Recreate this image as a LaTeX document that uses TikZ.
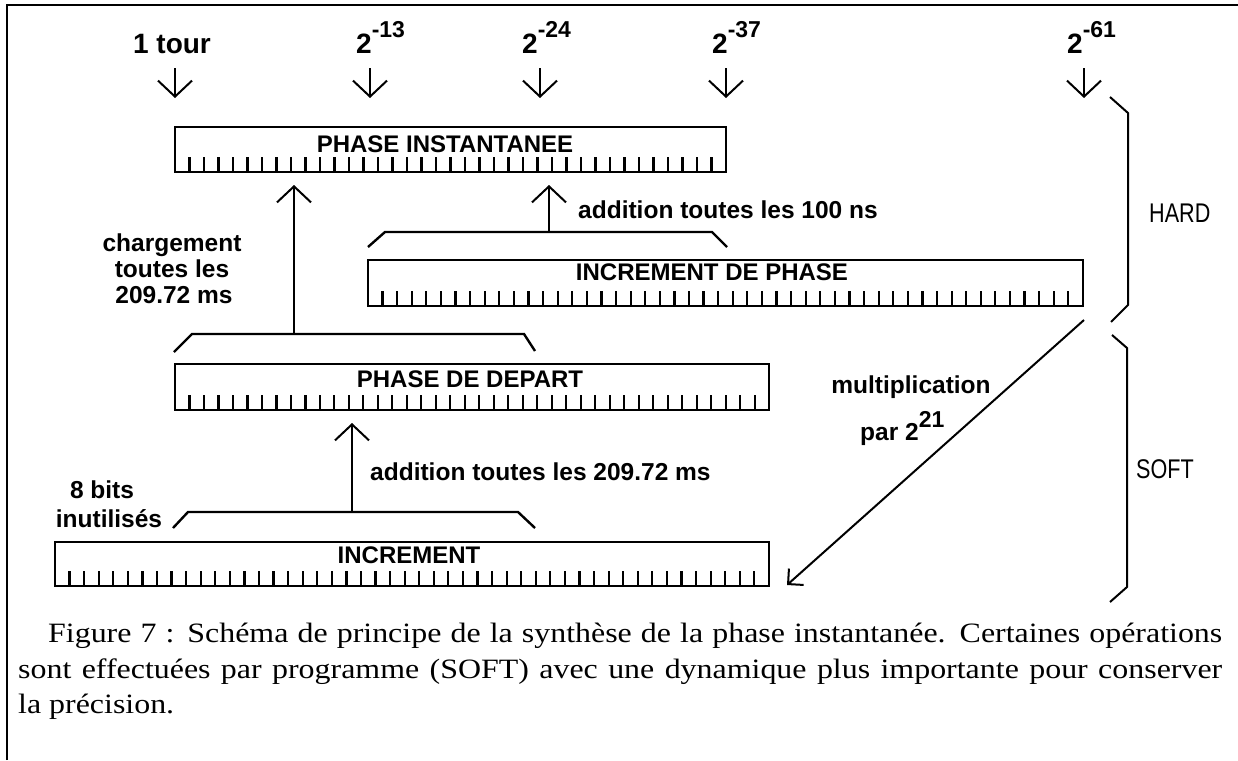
\documentclass[tikz,border=0pt]{standalone}
\usepackage{fontspec}
\usepackage{graphicx}
\setmainfont{Liberation Serif}[FakeStretch=1.14]
\newfontfamily\boldsans{Liberation Sans}
\newfontfamily\sidesans{Liberation Sans}
\usetikzlibrary{arrows.meta,calc}

% raised exponent for the bit weights
\newcommand{\supnum}[2]{\raisebox{#1}{\fontsize{23}{23}\selectfont #2}}
% bit separators along the lower edge of a register
\newcommand{\drawticks}[3]{%
  \foreach \k in {1,...,#2}{%
    \draw[regtick] ([xshift=\k*#3pt]#1.south west) -- ++(0,-15);}}

\begin{document}
\begin{tikzpicture}[x=1pt,y=-1pt,
  reg/.style={draw, line width=2.6pt, inner sep=0pt, outer sep=0pt, anchor=north west},
  regtick/.style={line width=2.2pt},
  brk/.style={line width=2.4pt, line join=miter},
  sidebrk/.style={line width=2pt, line join=miter},
  arr/.style={line width=2pt, -{Straight Barb[length=16pt,width=34pt,line width=2pt]}},
  mularr/.style={line width=2pt, -{Straight Barb[length=11pt,width=22pt,line width=2pt]}},
  txt/.style={font=\boldsans\bfseries\fontsize{24.5}{28}\selectfont, inner sep=0pt, anchor=base},
  boxlbl/.style={font=\boldsans\bfseries\fontsize{24}{28}\selectfont, inner sep=0pt, anchor=base},
  toplbl/.style={font=\boldsans\bfseries\fontsize{28}{32}\selectfont, inner sep=0pt, anchor=base},
  side/.style={font=\sidesans\fontsize{27}{30}\selectfont, inner sep=0pt, anchor=base west},
  captxt/.style={font=\fontsize{28}{34}\selectfont, inner sep=0pt, anchor=base west}]
\useasboundingbox (0,0) rectangle (1238,760);

% frame
\draw[line width=2pt] (7,760) -- (7,5) -- (1238,5);

% registers
\node[reg, minimum width=551pt, minimum height=45pt] (pinst) at (175,127) {};
\node[reg, minimum width=715pt, minimum height=46pt] (incph) at (368,260) {};
\node[reg, minimum width=594pt, minimum height=46pt] (pdep) at (175,364) {};
\node[reg, minimum width=714pt, minimum height=44pt] (incr) at (55,542) {};
\drawticks{pinst}{37}{14.5}
\drawticks{incph}{48}{14.59}
\drawticks{pdep}{40}{14.49}
\drawticks{incr}{48}{14.57}
\node[boxlbl] (pinstT) at (445,152) {PHASE INSTANTANEE};
\node[boxlbl] (incphT) at (712,280) {INCREMENT DE PHASE};
\node[boxlbl] (pdepT) at (470,387) {PHASE DE DEPART};
\node[boxlbl] (incrT) at (409,563) {INCREMENT};

% bit weights
\node[toplbl] (w0) at (172,53) {1 tour};
\node[toplbl, anchor=base west] (w13) at (356,53) {2\supnum{16pt}{-13}};
\node[toplbl, anchor=base west] (w24) at (522,53) {2\supnum{16pt}{-24}};
\node[toplbl, anchor=base west] (w37) at (712,53) {2\supnum{16pt}{-37}};
\node[toplbl, anchor=base west] (w61) at (1067,53) {2\supnum{16pt}{-61}};
\foreach \n/\x in {0/175,13/370,24/540,37/726,61/1084}{%
  \coordinate (da\n) at (\x,68);
  \coordinate (db\n) at (\x,98);
  \draw[arr] (da\n) -- (db\n);}

% groupings and transfers
\draw[brk] (368,247) -- (385,232) -- (712,232) -- (727,247);
\coordinate (jA) at (549,232);
\draw[arr, shorten >=13pt] (jA) -- (jA |- pinst.south);

\draw[brk] (174,352) -- (192,334) -- (524,334) -- (535,351);
\coordinate (jB) at (294,334);
\draw[arr, shorten >=13pt] (jB) -- (jB |- pinst.south);

\draw[brk] (173,528) -- (188,512) -- (518,512) -- (535,528);
\coordinate (jC) at (352,512);
\draw[arr, shorten >=13pt] (jC) -- (jC |- pdep.south);

\node[txt] (chg1) at (172,251) {chargement};
\node[txt] (chg2) at (172,277) {toutes les};
\node[txt] (chg3) at (174,303) {209.72 ms};
\node[txt, anchor=base west] (add1) at (578,218) {addition toutes les 100 ns};
\node[txt, anchor=base west] (add2) at (370,480) {addition toutes les 209.72 ms};
\node[txt] (ub1) at (102,498) {8 bits};
\node[txt] (ub2) at (109,527) {inutilisés};

% scaling from the hardware increment to the software one
\coordinate (mA) at ($(incph.south east)+(1,14)$);
\coordinate (mB) at ($(incr.south east)+(18,-1)$);
\draw[mularr] (mA) -- (mB);
\node[txt] (mul1) at (911,393) {multiplication};
\node[txt, anchor=base west] (mul2) at (860,440) {par 2\supnum{13pt}{21}};

% hardware / software split
\draw[sidebrk] (1110,97) -- (1128,113) -- (1128,305) -- (1111,322);
\draw[sidebrk] (1112,335) -- (1127,348) -- (1127,587) -- (1110,602);
\node[side] (hard) at (1149,222) {\scalebox{0.8}[1]{HARD}};
\node[side] (soft) at (1136,478) {\scalebox{0.8}[1]{SOFT}};

% caption
\node[captxt] (cap1) at (48,642) {\hbox to 1174pt{Figure 7 : Schéma de principe de la synthèse de la phase instantanée. Certaines opérations}};
\node[captxt] (cap2) at (18,678) {\hbox to 1204pt{sont effectuées par programme (SOFT) avec une dynamique plus importante pour conserver}};
\node[captxt] (cap3) at (18,713) {la précision.};
\end{tikzpicture}
\end{document}
